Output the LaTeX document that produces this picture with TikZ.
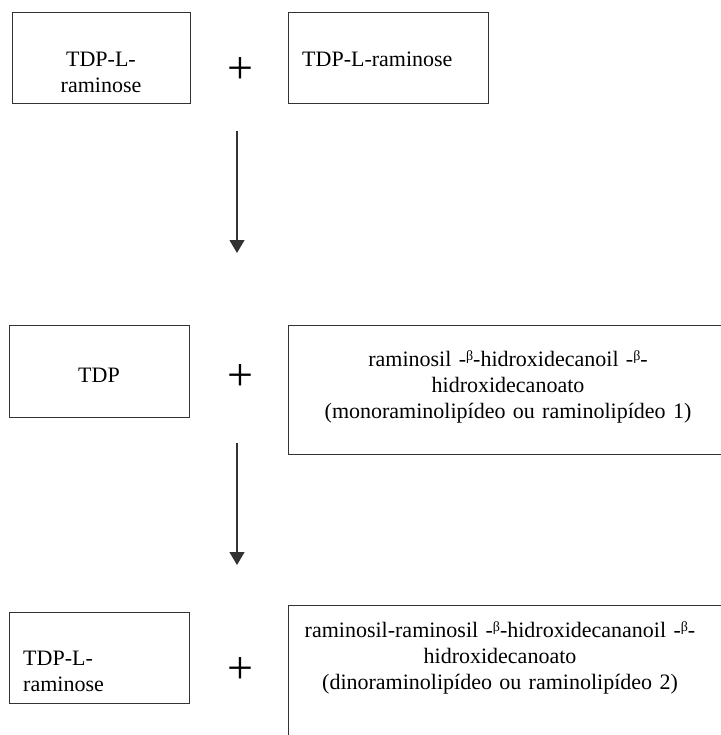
\documentclass[tikz,border=0pt]{standalone}
\usepackage{fontspec}
\setmainfont{Liberation Serif}
\usetikzlibrary{arrows.meta}
\newcommand\bet{\raisebox{.55ex}{\fontsize{14}{14}\selectfont β}}
\begin{document}
\begin{tikzpicture}[x=1pt,y=-1pt,
box/.style={draw=black!80,line width=1.2pt,anchor=north west,inner sep=0pt},
arr/.style={-{Triangle[width=15pt,length=13pt]},line width=1.2pt,draw=black!80,fill=black},
lab/.style={font=\fontsize{22}{26}\selectfont,inner sep=0pt,anchor=base},
plus/.style={font=\fontsize{46}{46}\selectfont,inner sep=0pt}]
\useasboundingbox (0,0) rectangle (720,735);
% first row
\node[box,minimum width=178pt,minimum height=91pt] (rhaA) at (12,12) {};
\node[lab,text width=170pt,align=center] (rhaAtxt) at (101,67) {TDP-L-\\raminose};
\node[plus] (plusA) at (240,71) {+};
\node[box,minimum width=200pt,minimum height=91pt] (rhaB) at (288,12) {};
\node[lab,anchor=base west] (rhaBtxt) at (302,67) {TDP-L-raminose};
\coordinate (arrAs) at (237,131);
\coordinate (arrAe) at (237,253);
\draw[arr] (arrAs) -- (arrAe);
% second row
\node[box,minimum width=180pt,minimum height=92pt] (tdp) at (9,325) {};
\node[lab] (tdptxt) at (99,382) {TDP};
\node[plus] (plusB) at (240,378) {+};
\node[box,minimum width=440pt,minimum height=129pt] (mono) at (288,325) {};
\node[lab,text width=430pt,align=center] (monotxt) at (508,366)
  {raminosil -\bet-hidroxidecanoil -\bet-\\hidroxidecanoato\\(monoraminolipídeo ou raminolipídeo 1)};
\coordinate (arrBs) at (237,443);
\coordinate (arrBe) at (237,565);
\draw[arr] (arrBs) -- (arrBe);
% third row
\node[box,minimum width=180pt,minimum height=91pt] (rhaC) at (9,612) {};
\node[lab,anchor=base west,text width=160pt,align=left] (rhaCtxt) at (23,665) {TDP-L-\\raminose};
\node[plus] (plusC) at (240,670) {+};
\node[box,minimum width=440pt,minimum height=200pt] (di) at (288,605) {};
\node[lab,text width=430pt,align=center] (ditxt) at (500,637)
  {raminosil-raminosil -\bet-hidroxidecananoil -\bet-\\hidroxidecanoato\\(dinoraminolipídeo ou raminolipídeo 2)};
\end{tikzpicture}
\end{document}
